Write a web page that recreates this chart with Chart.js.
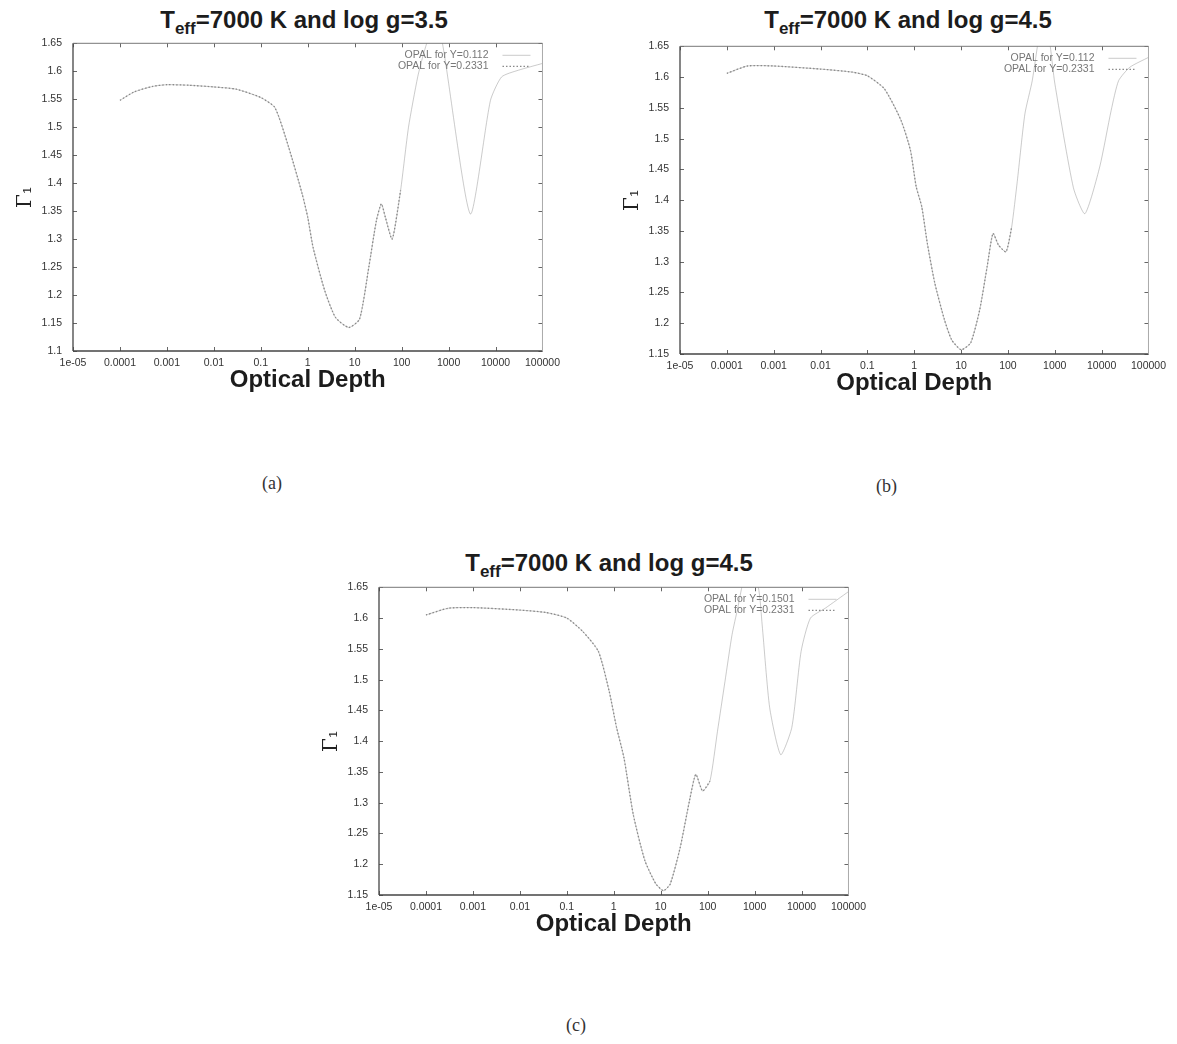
<!DOCTYPE html>
<html lang="en">
<head>
<meta charset="UTF-8">
<title>Gamma_1 against optical depth</title>
<script src="https://cdn.jsdelivr.net/npm/chart.js"></script>
<style>
  body { margin: 0; background: #fff; width: 1177px; height: 1044px; position: relative; overflow: hidden; }
  .box { position: absolute; }
  .ttl { position: absolute; width: 600px; text-align: center; color: #1c1c1c;
         font: bold 24px "Liberation Sans", Arial, sans-serif; line-height: 28px; }
  .ttl sub { font-size: 17px; vertical-align: -6px; line-height: 0; }
  .cap { position: absolute; font: 18px "Liberation Serif", "DejaVu Serif", serif; color: #333; }
</style>
</head>
<body>

<div class="ttl" style="left:4px; top:6px;">T<sub>eff</sub>=7000 K and log g=3.5</div>
<div class="ttl" style="left:608px; top:6px;">T<sub>eff</sub>=7000 K and log g=4.5</div>
<div class="ttl" style="left:309px; top:549px;">T<sub>eff</sub>=7000 K and log g=4.5</div>

<!-- the y scale adds its label half-height plus tick padding (~17px) above the plot -->
<div class="box" style="left:11px; top:26px; width:555px; height:369px;"><canvas id="chartA"></canvas></div>
<div class="box" style="left:618px; top:29px; width:554px; height:369px;"><canvas id="chartB"></canvas></div>
<div class="box" style="left:317px; top:570px; width:555px; height:369px;"><canvas id="chartC"></canvas></div>

<div class="cap" style="left:262px; top:473px;">(a)</div>
<div class="cap" style="left:876px; top:476px;">(b)</div>
<div class="cap" style="left:566px; top:1015px;">(c)</div>

<script>
// decades on the optical depth axis
const xTicks = [1e-5, 1e-4, 1e-3, 1e-2, 1e-1, 1, 10, 100, 1000, 10000, 100000];
const xTickLabels = ['1e-05', '0.0001', '0.001', '0.01', '0.1', '1', '10', '100', '1000', '10000', '100000'];
const yTicksA = [1.1, 1.15, 1.2, 1.25, 1.3, 1.35, 1.4, 1.45, 1.5, 1.55, 1.6, 1.65];
const yTicksBC = [1.15, 1.2, 1.25, 1.3, 1.35, 1.4, 1.45, 1.5, 1.55, 1.6, 1.65];

// (a) log g = 3.5
const depthA = [1e-4, 2e-4, 5e-4, 1e-3, 3e-3, 0.01, 0.03, 0.1, 0.2, 0.39, 0.76, 1.0, 1.3, 2.3, 3.9, 7.5, 12.7, 20, 29, 37, 45, 63, 95,
                140, 220, 295, 400, 550, 740, 2900, 7800, 13500, 31000, 1e5];
const gammaLowA = [1.548, 1.563, 1.573, 1.576, 1.575, 1.572, 1.568, 1.553, 1.535, 1.465, 1.381, 1.339, 1.285, 1.208, 1.160, 1.142, 1.157, 1.250, 1.333, 1.363, 1.339, 1.300, 1.387,
                   1.500, 1.590, 1.632, 1.665, 1.672, 1.650, 1.345, 1.548, 1.590, 1.602, 1.614];
const depthHighA = [1e-4, 2e-4, 5e-4, 1e-3, 3e-3, 0.01, 0.03, 0.1, 0.2, 0.39, 0.76, 1.0, 1.3, 2.3, 3.9, 7.5, 12.7, 20, 29, 37, 45, 63, 95];
const gammaHighA = [1.548, 1.563, 1.573, 1.576, 1.575, 1.572, 1.568, 1.553, 1.535, 1.465, 1.381, 1.339, 1.285, 1.208, 1.160, 1.142, 1.157, 1.250, 1.333, 1.363, 1.339, 1.300, 1.387];

// (b) log g = 4.5
const depthB = [1e-4, 2.75e-4, 1e-3, 0.01, 0.048, 0.1, 0.23, 0.52, 0.83, 1.1, 1.45, 1.9, 2.75, 4.4, 6.3, 10, 16, 25, 36, 48, 63, 91, 120,
                158, 230, 330, 500, 650, 800, 1000, 2500, 4400, 9100, 16000, 23000, 40000, 1e5];
const gammaLowB = [1.606, 1.618, 1.618, 1.613, 1.608, 1.602, 1.581, 1.530, 1.481, 1.422, 1.389, 1.330, 1.265, 1.206, 1.173, 1.157, 1.168, 1.222, 1.292, 1.346, 1.327, 1.316, 1.356,
                   1.430, 1.540, 1.594, 1.680, 1.685, 1.650, 1.590, 1.420, 1.378, 1.454, 1.546, 1.594, 1.616, 1.632];
const depthHighB = [1e-4, 2.75e-4, 1e-3, 0.01, 0.048, 0.1, 0.23, 0.52, 0.83, 1.1, 1.45, 1.9, 2.75, 4.4, 6.3, 10, 16, 25, 36, 48, 63, 91, 120];
const gammaHighB = [1.606, 1.618, 1.618, 1.613, 1.608, 1.602, 1.581, 1.530, 1.481, 1.422, 1.389, 1.330, 1.265, 1.206, 1.173, 1.157, 1.168, 1.222, 1.292, 1.346, 1.327, 1.316, 1.356];

// (c) log g = 4.5, Y=0.1501
const depthC = [1e-4, 3e-4, 1e-3, 0.01, 0.036, 0.1, 0.22, 0.47, 0.8, 1.15, 1.65, 2.6, 4.6, 7.9, 11.5, 16, 26, 41, 56, 78, 112,
                162, 234, 331, 437, 600, 800, 1200, 1450, 2100, 3600, 6200, 9800, 15500, 32000, 1e5];
const gammaLowC = [1.605, 1.616, 1.617, 1.613, 1.609, 1.600, 1.578, 1.546, 1.481, 1.422, 1.373, 1.281, 1.206, 1.168, 1.157, 1.168, 1.227, 1.303, 1.346, 1.319, 1.335,
                   1.416, 1.497, 1.573, 1.616, 1.665, 1.670, 1.650, 1.589, 1.454, 1.378, 1.422, 1.546, 1.600, 1.616, 1.643];
const depthHighC = [1e-4, 3e-4, 1e-3, 0.01, 0.036, 0.1, 0.22, 0.47, 0.8, 1.15, 1.65, 2.6, 4.6, 7.9, 11.5, 16, 26, 41, 56, 78, 112];
const gammaHighC = [1.605, 1.616, 1.617, 1.613, 1.609, 1.600, 1.578, 1.546, 1.481, 1.422, 1.373, 1.281, 1.206, 1.168, 1.157, 1.168, 1.227, 1.303, 1.346, 1.319, 1.335];

const Y_AXIS_W = 62;
const X_AXIS_H = 44;
const SANS = '"Liberation Sans", Arial, sans-serif';

// gnuplot style box: inward ticks on all four sides, frame, key in the top right
const gnuplotFrame = {
  id: 'gnuplotFrame',
  afterDatasetsDraw(chart) {
    const { ctx, chartArea: a, scales: { x, y } } = chart;
    ctx.save();
    ctx.lineWidth = 1;
    ctx.strokeStyle = '#666';
    ctx.beginPath();
    x.ticks.forEach(t => {
      const px = Math.round(x.getPixelForValue(t.value)) + 0.5;
      ctx.moveTo(px, a.bottom); ctx.lineTo(px, a.bottom - 4);
      ctx.moveTo(px, a.top); ctx.lineTo(px, a.top + 4);
    });
    y.ticks.forEach(t => {
      const py = Math.round(y.getPixelForValue(t.value)) + 0.5;
      ctx.moveTo(a.left, py); ctx.lineTo(a.left + 4, py);
      ctx.moveTo(a.right, py); ctx.lineTo(a.right - 4, py);
    });
    ctx.stroke();

    const side = (c, w, x1, y1, x2, y2) => {
      ctx.strokeStyle = c; ctx.lineWidth = w;
      ctx.beginPath(); ctx.moveTo(x1, y1); ctx.lineTo(x2, y2); ctx.stroke();
    };
    side('#444', 1.3, a.left, a.top, a.left, a.bottom);
    side('#444', 1.3, a.left, a.bottom, a.right, a.bottom);
    side('#777', 1, a.left, a.top, a.right, a.top);
    side('#aaa', 1, a.right, a.top, a.right, a.bottom);

    ctx.font = '10.5px ' + SANS;
    ctx.textAlign = 'right';
    ctx.textBaseline = 'middle';
    chart.data.datasets.forEach((ds, i) => {
      const ty = a.top + 12 + i * 11;
      ctx.fillStyle = '#777';
      ctx.fillText(ds.label, a.right - 54, ty);
      ctx.strokeStyle = ds.borderColor;
      ctx.lineWidth = ds.borderWidth;
      ctx.setLineDash(ds.borderDash || []);
      ctx.beginPath(); ctx.moveTo(a.right - 40, ty); ctx.lineTo(a.right - 12, ty); ctx.stroke();
      ctx.setLineDash([]);
    });
    ctx.restore();
  }
};

function points(depth, gamma) {
  return depth.map((d, i) => ({ x: d, y: gamma[i] }));
}

function makePanel(id, labels, low, high, yTicks) {
  new Chart(document.getElementById(id), {
    type: 'line',
    data: {
      datasets: [
        { label: labels[0], data: points(low[0], low[1]), order: 1,
          borderColor: 'rgba(140,140,140,0.45)', borderWidth: 1, pointRadius: 0, tension: 0.2 },
        { label: labels[1], data: points(high[0], high[1]), order: 0,
          borderColor: '#8a8a8a', borderWidth: 1.3, borderDash: [1.5, 2], pointRadius: 0, tension: 0.2 }
      ]
    },
    options: {
      responsive: true,
      maintainAspectRatio: false,
      animation: false,
      layout: { padding: { top: 0, right: 20, left: 0, bottom: 0 } },
      plugins: { legend: { display: false }, tooltip: { enabled: false } },
      scales: {
        x: {
          type: 'logarithmic',
          min: xTicks[0],
          max: xTicks[xTicks.length - 1],
          afterBuildTicks: s => { s.ticks = xTicks.map(v => ({ value: v })); },
          afterFit: s => { s.height = X_AXIS_H; },
          grid: { display: false, drawTicks: false, tickLength: 0 },
          border: { display: false },
          ticks: {
            autoSkip: false, maxRotation: 0, padding: 6, color: '#333',
            font: { family: SANS, size: 10.5 },
            callback: (v, i) => xTickLabels[i]
          },
          title: {
            display: true, text: 'Optical Depth', color: '#1c1c1c', padding: 0,
            font: { family: SANS, size: 24, weight: 'bold' }
          }
        },
        y: {
          min: yTicks[0],
          max: yTicks[yTicks.length - 1],
          afterBuildTicks: s => { s.ticks = yTicks.map(v => ({ value: v })); },
          afterFit: s => { s.width = Y_AXIS_W; },
          grid: { display: false, drawTicks: false, tickLength: 0 },
          border: { display: false },
          ticks: {
            padding: 11, color: '#333',
            font: { family: SANS, size: 10.5 },
            callback: v => String(+v.toFixed(2))
          },
          title: {
            display: true, text: 'Γ₁', color: '#222', padding: { top: 3 },
            font: { family: '"DejaVu Serif", serif', size: 20 }
          }
        }
      }
    },
    plugins: [gnuplotFrame]
  });
}

makePanel('chartA', ['OPAL for Y=0.112', 'OPAL for Y=0.2331'], [depthA, gammaLowA], [depthHighA, gammaHighA], yTicksA);
makePanel('chartB', ['OPAL for Y=0.112', 'OPAL for Y=0.2331'], [depthB, gammaLowB], [depthHighB, gammaHighB], yTicksBC);
makePanel('chartC', ['OPAL for Y=0.1501', 'OPAL for Y=0.2331'], [depthC, gammaLowC], [depthHighC, gammaHighC], yTicksBC);
</script>
</body>
</html>
